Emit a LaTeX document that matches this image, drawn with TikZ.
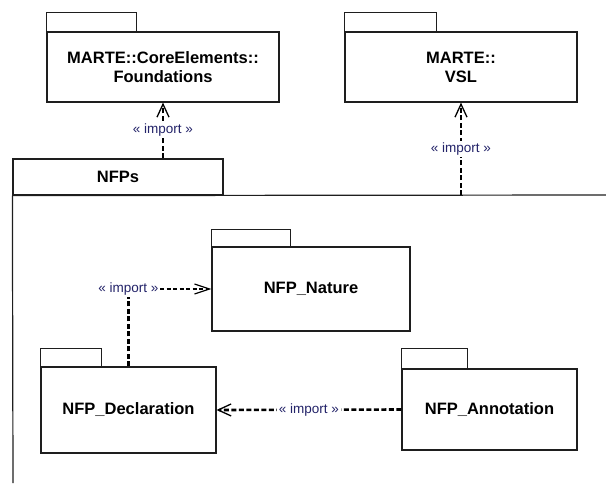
\documentclass[tikz,border=0pt]{standalone}
\usepackage{fontspec}
\setmainfont{Liberation Sans}
\usetikzlibrary{arrows.meta,calc}
\definecolor{lblcol}{RGB}{35,35,105}
\definecolor{linecol}{RGB}{30,30,30}
\tikzset{
  pkgbody/.style={draw=linecol, line width=1.2pt, align=center, inner sep=0pt,
    font=\fontsize{16.5}{19}\selectfont\bfseries},
  pkgtab/.style={draw=linecol, line width=1.2pt},
  importlink/.style={draw=black, line width=2.6pt, dash pattern=on 5pt off 2.5pt},
  thinlink/.style={draw=black, line width=1.1pt, dash pattern=on 4pt off 2.5pt},
  opentip/.style={-{Straight Barb[length=13pt,width=12pt,line width=1.3pt]}},
  longtip/.style={-{Straight Barb[length=15pt,width=10pt,line width=1.2pt]}},
  stereo/.style={fill=white, inner sep=1.5pt, text=lblcol,
    font=\fontsize{13.5}{15}\selectfont}
}
\begin{document}
\begin{tikzpicture}[x=1pt,y=-1pt]
  \useasboundingbox (0,0) rectangle (606,483);

  % outer package NFPs: tab and the open-ended body edges
  \node[pkgbody, minimum width=210pt, minimum height=36pt] (nfpstab) at (118,177) {NFPs};
  \coordinate (nfpsend) at (606,195);
  \coordinate (nfpsbottom) at (13,483);
  \draw[pkgtab] (nfpstab.south west) -- (nfpsend);
  \draw[pkgtab] (nfpstab.south west) -- (nfpsbottom);

  % imported packages
  \node[pkgbody, minimum width=232pt, minimum height=70pt] (found) at (163,67)
    {MARTE::CoreElements::\\Foundations};
  \draw[pkgtab] (found.north west) rectangle ++(90,-19);

  \node[pkgbody, minimum width=232pt, minimum height=70pt] (vsl) at (461,67)
    {MARTE::\\VSL};
  \draw[pkgtab] (vsl.north west) rectangle ++(92,-19);

  % nested packages
  \node[pkgbody, minimum width=198pt, minimum height=84pt] (nature) at (311,289)
    {NFP\_Nature};
  \draw[pkgtab] (nature.north west) rectangle ++(79,-17);

  \node[pkgbody, minimum width=175pt, minimum height=86pt] (decl) at (128.5,410)
    {NFP\_Declaration};
  \draw[pkgtab] (decl.north west) rectangle ++(61,-18);

  \node[pkgbody, minimum width=175pt, minimum height=81pt] (annot) at (489.5,409.5)
    {NFP\_Annotation};
  \draw[pkgtab] (annot.north west) rectangle ++(66,-20);

  % import dependencies
  \draw[importlink, opentip] (found.south |- nfpstab.north) -- node[stereo] {« import »} (found.south);
  \draw[importlink, opentip] (vsl.south |- nfpsend) -- node[stereo] {« import »} (vsl.south);

  \node[stereo] (declimp) at (decl.north |- nature.west) {« import »};
  \draw[importlink] (decl.north) -- (declimp.south);
  \draw[thinlink, longtip] (declimp.east) -- (nature.west);

  \draw[importlink, opentip] (annot.west) -- node[stereo] {« import »} (decl.east);
\end{tikzpicture}
\end{document}
